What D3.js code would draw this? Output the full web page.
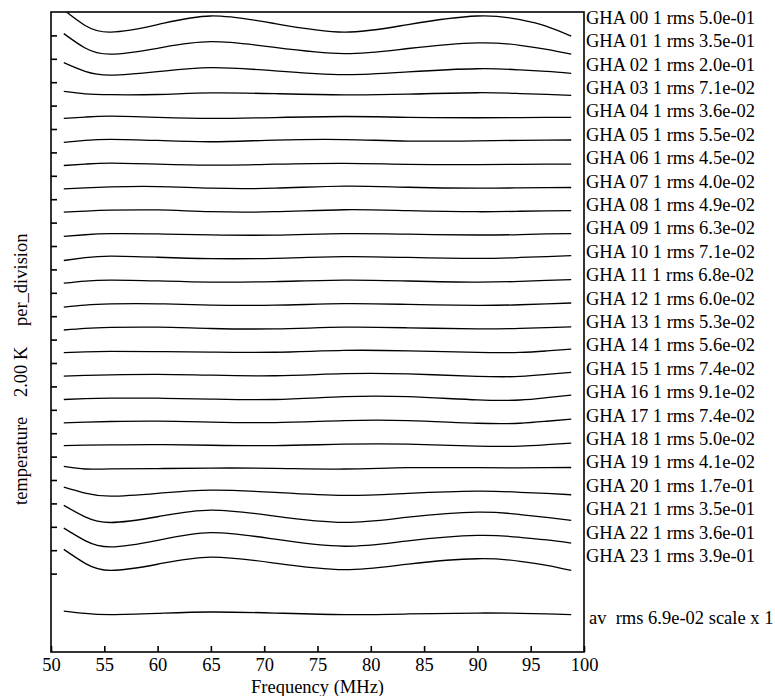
<!DOCTYPE html>
<html>
<head>
<meta charset="utf-8">
<script src="https://cdn.jsdelivr.net/npm/d3@7"></script>
<style>
  html, body { margin: 0; padding: 0; background: #fff; }
  svg text { font-family: "Liberation Serif", "Times New Roman", Times, serif; fill: #000; }
</style>
</head>
<body>
<svg id="chart" width="775" height="696"></svg>
<script>
// ---------------- data ----------------
const freqs = [51.2, 53.2, 55.6, 60, 65, 71, 77.5, 83.5, 90, 94, 96.5, 98.8];
const ghaLabels = ["00","01","02","03","04","05","06","07","08","09","10","11",
                   "12","13","14","15","16","17","18","19","20","21","22","23"];
const rmsValues = ["5.0e-01","3.5e-01","2.0e-01","7.1e-02","3.6e-02","5.5e-02","4.5e-02","4.0e-02",
                   "4.9e-02","6.3e-02","7.1e-02","6.8e-02","6.0e-02","5.3e-02","5.6e-02","7.4e-02",
                   "9.1e-02","7.4e-02","5.0e-02","4.1e-02","1.7e-01","3.5e-01","3.6e-01","3.9e-01"];
// residuals in K (positive = up), one row per GHA, at the frequencies above
const residuals = [
  [ 1.18,-0.15,-0.72,-0.08, 0.66, 0.01,-0.72,-0.07, 0.66, 0.35,-0.22,-1.06],
  [ 1.15,-0.08,-0.60,-0.10, 0.46,-0.03,-0.55,-0.12, 0.36, 0.15,-0.20,-0.60],
  [ 0.67,-0.08,-0.40,-0.10, 0.25,-0.03,-0.35,-0.12, 0.15, 0.05,-0.08,-0.25],
  [ 0.21, 0.00,-0.07,-0.05, 0.08, 0.02,-0.08,-0.02, 0.10, 0.03,-0.04,-0.13],
  [-0.10, 0.02, 0.10, 0.00,-0.10,-0.02, 0.07, 0.00,-0.04,-0.02,-0.01,-0.01],
  [-0.15, 0.02, 0.12, 0.02,-0.09, 0.05, 0.10,-0.03,-0.01, 0.03, 0.05, 0.06],
  [-0.12, 0.00, 0.09, 0.00,-0.09,-0.01, 0.06,-0.02,-0.05,-0.02,-0.01, 0.00],
  [-0.12,-0.03, 0.05, 0.08,-0.06,-0.06, 0.12, 0.02,-0.06,-0.03,-0.01, 0.00],
  [-0.10,-0.02, 0.06, 0.08,-0.07,-0.07, 0.10, 0.02,-0.07,-0.03, 0.00, 0.02],
  [-0.18,-0.04, 0.05, 0.03,-0.05,-0.07, 0.06, 0.01,-0.06,-0.02, 0.03, 0.06],
  [-0.24, 0.00, 0.14, 0.04,-0.08,-0.05, 0.09, 0.02,-0.06, 0.02, 0.10, 0.18],
  [-0.18, 0.00, 0.09, 0.02,-0.08,-0.04, 0.09, 0.01,-0.09,-0.02, 0.06, 0.12],
  [-0.22,-0.05, 0.05, 0.06,-0.05,-0.06, 0.07, 0.01,-0.07,-0.02, 0.06, 0.13],
  [-0.18,-0.04, 0.04, 0.06,-0.05,-0.08, 0.06, 0.01,-0.08,-0.04, 0.03, 0.09],
  [-0.12,-0.05,-0.01,-0.03,-0.07,-0.08, 0.08, 0.04,-0.10,-0.10, 0.03, 0.18],
  [-0.12,-0.06,-0.01, 0.03,-0.04,-0.09, 0.09, 0.07,-0.14,-0.15, 0.02, 0.20],
  [-0.12,-0.05,-0.01,-0.01,-0.08,-0.12, 0.12, 0.12,-0.15,-0.16, 0.04, 0.26],
  [-0.12,-0.05, 0.00, 0.03,-0.05,-0.09, 0.08, 0.08,-0.15,-0.15, 0.02, 0.20],
  [-0.06,-0.02, 0.01, 0.03,-0.03,-0.06, 0.06, 0.06,-0.10,-0.10, 0.02, 0.15],
  [ 0.16,-0.06,-0.05,-0.02, 0.02, 0.00,-0.06, 0.05, 0.05, 0.04, 0.05, 0.07],
  [ 0.39,-0.12,-0.38,-0.14, 0.14,-0.06,-0.32,-0.14, 0.05,-0.05,-0.15,-0.26],
  [ 0.83,-0.15,-0.63,-0.14, 0.43,-0.08,-0.62,-0.18, 0.25, 0.05,-0.20,-0.45],
  [ 0.89,-0.18,-0.72,-0.16, 0.50,-0.06,-0.66,-0.20, 0.26, 0.10,-0.12,-0.39],
  [ 1.07,-0.12,-0.72,-0.20, 0.41,-0.10,-0.66,-0.19, 0.27, 0.05,-0.30,-0.73]
];
const avResidual = [0.20, 0.00,-0.10, 0.00, 0.12, 0.03,-0.10,-0.05, 0.03, 0.00,-0.05,-0.10];
const avLabel = "av  rms 6.9e-02 scale x 1";
const yTitleParts = ["temperature", "2.00 K", "per_division"];
const kPerDivision = 2.0;
const avOffsetDiv = 25.7;
const xTicks = [50,55,60,65,70,75,80,85,90,95,100];
const yTickDivs = d3.range(1, 25);

// ---------------- layout ----------------
const mLeft = 51, mRight = 584, mTop = 12, mBottom = 652;
const svg = d3.select("#chart");
const x = d3.scaleLinear().domain([50, 100]).range([mLeft, mRight]);
// y in K measured downward from the top of the plot
const y = d3.scaleLinear().domain([0, 54.7]).range([mTop, mBottom]);

svg.append("defs").append("clipPath").attr("id", "clip")
  .append("rect").attr("x", mLeft).attr("y", mTop).attr("width", mRight - mLeft).attr("height", mBottom - mTop);

const line = d3.line()
  .x(d => x(d[0]))
  .y(d => y(d[1]))
  .curve(d3.curveNatural);

const g = svg.append("g").attr("clip-path", "url(#clip)");
residuals.forEach((row, i) => {
  const base = (i + 0.5) * kPerDivision;
  g.append("path")
    .attr("d", line(freqs.map((f, j) => [f, base - row[j]])))
    .attr("fill", "none").attr("stroke", "#000").attr("stroke-width", 1.3);
});
{
  const base = avOffsetDiv * kPerDivision;
  g.append("path")
    .attr("d", line(freqs.map((f, j) => [f, base - avResidual[j]])))
    .attr("fill", "none").attr("stroke", "#000").attr("stroke-width", 1.3);
}

// frame
svg.append("rect").attr("x", mLeft).attr("y", mTop).attr("width", mRight - mLeft).attr("height", mBottom - mTop)
  .attr("fill", "none").attr("stroke", "#000").attr("stroke-width", 1.6);

// x axis ticks (inward) and labels
const xAxis = d3.axisBottom(x).tickValues(xTicks).tickSizeInner(-6).tickSizeOuter(0).tickPadding(6);
const xg = svg.append("g").attr("transform", `translate(0,${mBottom})`).call(xAxis);
xg.attr("font-family", null).attr("font-size", null);
xg.select(".domain").remove();
xg.selectAll("line").attr("stroke", "#000").attr("stroke-width", 1.6);
xg.selectAll("text").attr("font-size", 18.5).attr("fill", "#000");

// y ticks (inward) on left
const yAxis = d3.axisLeft(y).tickValues(yTickDivs.map(d => d * kPerDivision)).tickSizeInner(-6).tickSizeOuter(0).tickFormat("");
const yg = svg.append("g").attr("transform", `translate(${mLeft},0)`).call(yAxis);
yg.select(".domain").remove();
yg.selectAll("line").attr("stroke", "#000").attr("stroke-width", 1.6);

// right labels
ghaLabels.forEach((lab, i) => {
  svg.append("text")
    .attr("x", mRight + 2)
    .attr("y", y((i + 0.5) * kPerDivision))
    .attr("font-size", 18.5)
    .text(`GHA ${lab} 1 rms ${rmsValues[i]}`);
});
svg.append("text")
  .attr("x", mRight + 5)
  .attr("y", y(avOffsetDiv * kPerDivision) + 11)
  .attr("font-size", 18.5)
  .style("white-space", "pre")
  .text(avLabel);

// axis titles
svg.append("text")
  .attr("x", (mLeft + mRight) / 2).attr("y", 693)
  .attr("text-anchor", "middle").attr("font-size", 18.5)
  .text("Frequency (MHz)");
// y title, rotated, pieces placed along the axis
const yTitleStarts = [505, 397, 326];
yTitleParts.forEach((t, i) => {
  svg.append("text")
    .attr("transform", `translate(27,${yTitleStarts[i]}) rotate(-90)`)
    .attr("text-anchor", "start").attr("font-size", 18.5)
    .text(t);
});
</script>
</body>
</html>
